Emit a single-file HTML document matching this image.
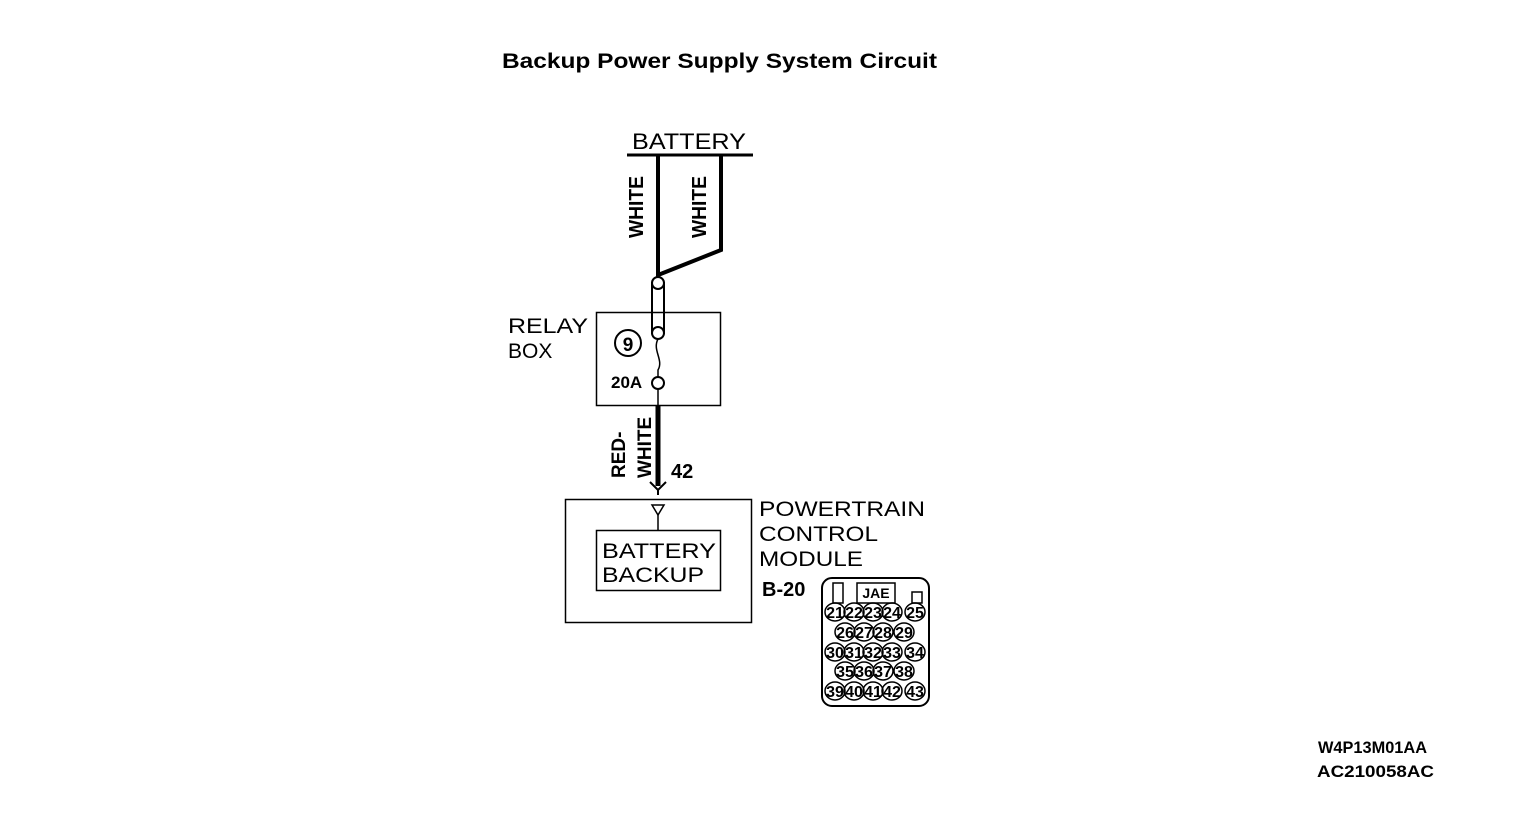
<!DOCTYPE html><html><head><style>body{margin:0;background:#fff}svg{display:block}text{font-family:"Liberation Sans",sans-serif}</style></head><body>
<svg width="1536" height="822" xmlns="http://www.w3.org/2000/svg">
<text x="502" y="68" font-size="21" font-weight="bold" textLength="435" lengthAdjust="spacingAndGlyphs">Backup Power Supply System Circuit</text>
<text x="632" y="149" font-size="22" textLength="114" lengthAdjust="spacingAndGlyphs">BATTERY</text>
<line x1="627" y1="155" x2="753" y2="155" stroke="#000" stroke-width="3"/>
<polyline points="658,155 658,275 721,250 721,155" fill="none" stroke="#000" stroke-width="4"/>
<text transform="translate(643,238) rotate(-90)" font-size="20" font-weight="bold" textLength="62" lengthAdjust="spacingAndGlyphs">WHITE</text>
<text transform="translate(706,238) rotate(-90)" font-size="20" font-weight="bold" textLength="62" lengthAdjust="spacingAndGlyphs">WHITE</text>
<rect x="652" y="283" width="12" height="50" fill="#fff" stroke="#000" stroke-width="2"/>
<circle cx="658" cy="283" r="6" fill="#fff" stroke="#000" stroke-width="2"/>
<circle cx="658" cy="333" r="6" fill="#fff" stroke="#000" stroke-width="2"/>
<path d="M658 339 C652 350 664 360 658 370 L658 377" fill="none" stroke="#000" stroke-width="1.5"/>
<circle cx="658" cy="383" r="6" fill="#fff" stroke="#000" stroke-width="2"/>
<rect x="596.5" y="312.5" width="124" height="93" fill="none" stroke="#000" stroke-width="1.5"/>
<line x1="658" y1="389" x2="658" y2="405" stroke="#000" stroke-width="1.5"/>
<circle cx="628" cy="343" r="13" fill="none" stroke="#000" stroke-width="2"/>
<text x="628" y="351" font-size="19" font-weight="bold" text-anchor="middle">9</text>
<text x="611" y="388" font-size="17" font-weight="bold">20A</text>
<text x="508" y="333" font-size="21" textLength="80" lengthAdjust="spacingAndGlyphs">RELAY</text>
<text x="508" y="358" font-size="21">BOX</text>
<line x1="658" y1="405" x2="658" y2="486" stroke="#000" stroke-width="5"/>
<path d="M650 482 L658 490 L666 482 M658 490 L658 495" fill="none" stroke="#000" stroke-width="2"/>
<text transform="translate(625,478) rotate(-90)" font-size="19" font-weight="bold">RED-</text>
<text transform="translate(651,478) rotate(-90)" font-size="19" font-weight="bold">WHITE</text>
<text x="671" y="478" font-size="20" font-weight="bold">42</text>
<rect x="565.5" y="499.5" width="186" height="123" fill="none" stroke="#000" stroke-width="1.5"/>
<path d="M652 505 L664 505 L658 515 Z" fill="none" stroke="#000" stroke-width="1.5"/>
<line x1="658" y1="515" x2="658" y2="530" stroke="#000" stroke-width="1.5"/>
<rect x="596.5" y="530.5" width="124" height="60" fill="none" stroke="#000" stroke-width="1.5"/>
<text x="602" y="558" font-size="21" textLength="114" lengthAdjust="spacingAndGlyphs">BATTERY</text>
<text x="602" y="582" font-size="21" textLength="102" lengthAdjust="spacingAndGlyphs">BACKUP</text>
<text x="759" y="516" font-size="21" textLength="166" lengthAdjust="spacingAndGlyphs">POWERTRAIN</text>
<text x="759" y="541" font-size="21" textLength="119" lengthAdjust="spacingAndGlyphs">CONTROL</text>
<text x="759" y="566" font-size="21" textLength="104" lengthAdjust="spacingAndGlyphs">MODULE</text>
<text x="762" y="596" font-size="20" font-weight="bold">B-20</text>
<rect x="822" y="578" width="107" height="128" rx="10" fill="none" stroke="#000" stroke-width="2"/>
<rect x="833" y="583" width="10" height="20" fill="none" stroke="#000" stroke-width="1.5"/>
<rect x="857" y="583" width="38" height="20" fill="none" stroke="#000" stroke-width="1.5"/>
<text x="876" y="598" font-size="14" font-weight="bold" text-anchor="middle">JAE</text>
<rect x="912" y="592" width="10" height="11" fill="none" stroke="#000" stroke-width="1.5"/>
<g fill="none" stroke="#000" stroke-width="1.5">
<ellipse cx="835" cy="612" rx="10" ry="9"/><ellipse cx="854" cy="612" rx="10" ry="9"/><ellipse cx="873" cy="612" rx="10" ry="9"/><ellipse cx="892" cy="612" rx="10" ry="9"/><ellipse cx="915" cy="612" rx="10" ry="9"/>
<ellipse cx="845" cy="632" rx="10" ry="9"/><ellipse cx="864" cy="632" rx="10" ry="9"/><ellipse cx="883" cy="632" rx="10" ry="9"/><ellipse cx="904" cy="632" rx="10" ry="9"/>
<ellipse cx="835" cy="652" rx="10" ry="9"/><ellipse cx="854" cy="652" rx="10" ry="9"/><ellipse cx="873" cy="652" rx="10" ry="9"/><ellipse cx="892" cy="652" rx="10" ry="9"/><ellipse cx="915" cy="652" rx="10" ry="9"/>
<ellipse cx="845" cy="671" rx="10" ry="9"/><ellipse cx="864" cy="671" rx="10" ry="9"/><ellipse cx="883" cy="671" rx="10" ry="9"/><ellipse cx="904" cy="671" rx="10" ry="9"/>
<ellipse cx="835" cy="691" rx="10" ry="9"/><ellipse cx="854" cy="691" rx="10" ry="9"/><ellipse cx="873" cy="691" rx="10" ry="9"/><ellipse cx="892" cy="691" rx="10" ry="9"/><ellipse cx="915" cy="691" rx="10" ry="9"/>
</g>
<g font-size="16" font-weight="bold" text-anchor="middle">
<text x="835" y="618">21</text><text x="854" y="618">22</text><text x="873" y="618">23</text><text x="892" y="618">24</text><text x="915" y="618">25</text>
<text x="845" y="638">26</text><text x="864" y="638">27</text><text x="883" y="638">28</text><text x="904" y="638">29</text>
<text x="835" y="658">30</text><text x="854" y="658">31</text><text x="873" y="658">32</text><text x="892" y="658">33</text><text x="915" y="658">34</text>
<text x="845" y="677">35</text><text x="864" y="677">36</text><text x="883" y="677">37</text><text x="904" y="677">38</text>
<text x="835" y="697">39</text><text x="854" y="697">40</text><text x="873" y="697">41</text><text x="892" y="697">42</text><text x="915" y="697">43</text>
</g>
<text x="1318" y="753" font-size="17" font-weight="bold" textLength="109" lengthAdjust="spacingAndGlyphs">W4P13M01AA</text>
<text x="1317" y="777" font-size="17" font-weight="bold" textLength="117" lengthAdjust="spacingAndGlyphs">AC210058AC</text>
</svg></body></html>
